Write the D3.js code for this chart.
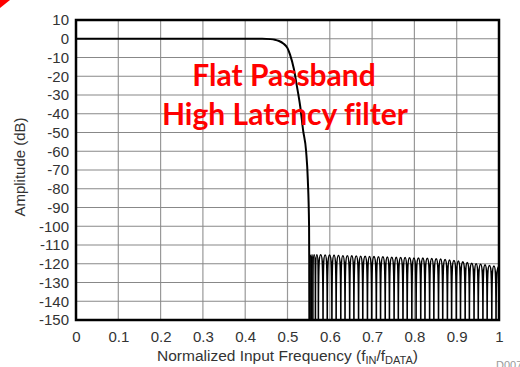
<!DOCTYPE html>
<html><head><meta charset="utf-8">
<script src="https://cdn.jsdelivr.net/npm/d3@7"></script>
<style>body{margin:0;background:#fff}svg{display:block}</style>
</head><body>
<svg id="c" width="520" height="367"></svg>
<script>
const xTicks = [0,0.1,0.2,0.3,0.4,0.5,0.6,0.7,0.8,0.9,1];
const yTicks = [10,0,-10,-20,-30,-40,-50,-60,-70,-80,-90,-100,-110,-120,-130,-140,-150];
// passband / transition (freq, dB)
const passFreq = [0,0.44,0.46,0.47,0.48,0.49,0.50,0.506,0.515,0.522,0.53,0.537,0.544,0.548,0.551,0.552];
const passDb   = [0,0,-0.2,-0.5,-1.2,-2.5,-5,-8.5,-16,-25,-36,-49,-60,-75,-100,-150];
// stopband lobes: null frequencies and peak levels between them
const nullFreq = [0.552,0.556,0.560,0.566,0.573,0.584,0.594,0.605,0.615,0.626,0.636,0.647,0.657,0.668,0.678,0.689,0.699,0.710,0.720,0.731,0.741,0.752,0.762,0.773,0.783,0.794,0.804,0.815,0.825,0.836,0.846,0.857,0.867,0.878,0.888,0.899,0.909,0.920,0.930,0.941,0.951,0.962,0.972,0.983,0.993];
const peakDb   = [-115.5,-115.2,-115.2,-115.2,-115.2,-115.3,-115.4,-115.5,-115.6,-115.7,-115.7,-115.8,-115.9,-116,-116,-116.1,-116.2,-116.3,-116.3,-116.4,-116.5,-116.6,-116.7,-116.7,-116.8,-116.9,-116.9,-117,-117.1,-117.2,-117.3,-117.5,-117.7,-118,-118.3,-118.6,-119,-119.4,-119.7,-120,-120.3,-120.6,-120.9,-121.2];
const endFreq = 1.0, endDb = -121.3;

const svg = d3.select("#c");
const L=76,R=499,T=20,B=320;
const x = d3.scaleLinear().domain([0,1]).range([L,R]);
const y = d3.scaleLinear().domain([-150,10]).range([B,T]);
const FONT = "Liberation Sans, Arial, sans-serif";

// custom d3 curve: steep sides at nulls, rounded tops at peaks
function LobeCurve(ctx){this._context=ctx;}
LobeCurve.prototype = {
  areaStart(){this._line=0;}, areaEnd(){this._line=NaN;},
  lineStart(){this._point=0;},
  lineEnd(){ if(this._line===0 && this._point===1) this._context.closePath(); },
  point(px,py){
    px=+px; py=+py;
    if(this._point===0){ this._point=1; this._context.moveTo(px,py); }
    else {
      const x0=this._x0, y0=this._y0, c=this._context;
      if(py<y0){ // rising to a peak
        c.bezierCurveTo(x0, y0+(py-y0)*0.8, x0+(px-x0)*0.2, py, px, py);
      } else {   // falling to a null
        c.bezierCurveTo(px-(px-x0)*0.2, y0, px, y0+(py-y0)*0.2, px, py);
      }
    }
    this._x0=px; this._y0=py;
  }
};
const curveLobe = ctx => new LobeCurve(ctx);

// red corner mark
svg.append("polygon").attr("points","0,0 10,0 0,8").attr("fill","#ff0000");

// grid
const g = svg.append("g");
g.selectAll("line.v").data(xTicks).join("line")
 .attr("x1",d=>x(d)).attr("x2",d=>x(d)).attr("y1",T).attr("y2",B)
 .attr("stroke","#999").attr("stroke-width",1.2);
g.selectAll("line.h").data(yTicks).join("line")
 .attr("x1",L).attr("x2",R).attr("y1",d=>y(d)).attr("y2",d=>y(d))
 .attr("stroke","#888").attr("stroke-width",1.2);

// axes labels via d3 axes
const yAxis = d3.axisLeft(y).tickValues(yTicks).tickSize(0).tickPadding(7).tickFormat(d=>String(d));
const yg = svg.append("g").attr("transform",`translate(${L},0)`).call(yAxis);
const xAxis = d3.axisBottom(x).tickValues(xTicks).tickSize(0).tickPadding(11).tickFormat(d=>String(d));
const xg = svg.append("g").attr("transform",`translate(0,${B})`).call(xAxis);
[yg,xg].forEach(a=>{a.select(".domain").remove();
 a.selectAll("text").attr("font-family",FONT).attr("font-size",15).attr("fill","#333");});

// clip
svg.append("clipPath").attr("id","clip").append("rect").attr("x",L).attr("y",T).attr("width",R-L).attr("height",B-T);

// curve data
const pass = passFreq.map((f,i)=>[f,passDb[i]]);
const stop = [];
nullFreq.forEach((f,i)=>{stop.push([f,-150]); if(i<peakDb.length) stop.push([(f+nullFreq[i+1])/2, peakDb[i]]);});
stop.push([endFreq,endDb]);

svg.append("path").datum(pass).attr("clip-path","url(#clip)")
 .attr("d",d3.line().x(d=>x(d[0])).y(d=>y(d[1])).curve(d3.curveMonotoneX))
 .attr("fill","none").attr("stroke","#000").attr("stroke-width",2);
svg.append("path").datum(stop).attr("clip-path","url(#clip)")
 .attr("d",d3.line().x(d=>x(d[0])).y(d=>y(d[1])).curve(curveLobe))
 .attr("fill","none").attr("stroke","#000").attr("stroke-width",1.6);

// border
svg.append("rect").attr("x",L).attr("y",T).attr("width",R-L).attr("height",B-T)
 .attr("fill","none").attr("stroke","#000").attr("stroke-width",2.5);

// axis titles
const xt = svg.append("text").attr("x",(L+R)/2).attr("y",361).attr("text-anchor","middle")
 .attr("font-family",FONT).attr("font-size",15.5).attr("fill","#333");
xt.append("tspan").text("Normalized Input Frequency (f");
xt.append("tspan").attr("font-size",11).attr("dy",3).text("IN");
xt.append("tspan").attr("dy",-3).text("/f");
xt.append("tspan").attr("font-size",11).attr("dy",3).text("DATA");
xt.append("tspan").attr("dy",-3).text(")");
svg.append("text").attr("transform","translate(25,167) rotate(-90)").attr("text-anchor","middle")
 .attr("font-family",FONT).attr("font-size",15).attr("fill","#333").text("Amplitude (dB)");

// annotation
const ann = svg.append("g").attr("font-family","Lato, sans-serif").attr("font-weight","bold").attr("font-size",30)
 .attr("fill","#ff0000").attr("text-anchor","middle").style("font-variant-ligatures","none");
ann.append("text").attr("x",284).attr("y",86).text("Flat Passband");
ann.append("text").attr("x",285).attr("y",125).text("High Latency filter");

// figure id
svg.append("text").attr("x",496).attr("y",369).attr("font-family",FONT).attr("font-size",11).attr("fill","#999").text("D007");
</script>
</body></html>
